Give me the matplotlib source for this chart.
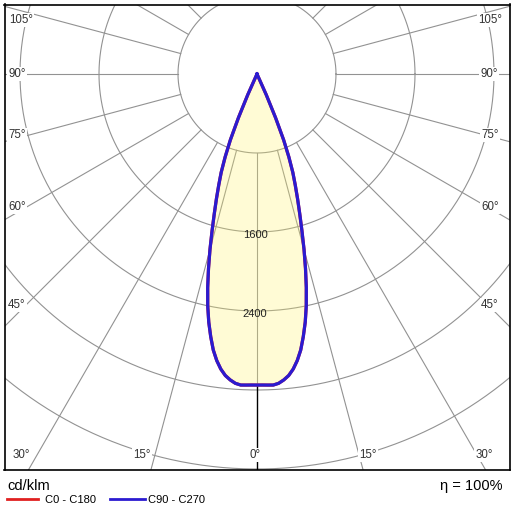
import numpy as np
import matplotlib
matplotlib.use("Agg")
import matplotlib.pyplot as plt
from matplotlib.lines import Line2D

plt.rcParams['font.family'] = ['Liberation Sans', 'DejaVu Sans']

# luminous intensity, cd/klm, by angle from nadir (degrees)
gamma = list(range(0, 26))
i_c0_c180 = [3150, 3150, 3152, 3154, 3140, 3110, 3070, 3010, 2930, 2830, 2700, 2560, 2400,
             2220, 2030, 1840, 1650, 1480, 1330, 1190, 1060, 900, 720, 480, 230, 0]
i_c90_c270 = [3150, 3150, 3152, 3154, 3140, 3110, 3070, 3010, 2930, 2830, 2700, 2560, 2400,
              2220, 2030, 1840, 1650, 1480, 1330, 1190, 1060, 900, 720, 480, 230, 0]

ring_levels = [800, 1600, 2400, 3200, 4000, 4800]
ring_labels = ["1600", "2400"]
spoke_angles = [15, 30, 45, 60, 75, 90, 105, 120, 135, 150, 165, 180]

# angle labels: text, pixel x, pixel y
angle_labels = [("105°", 21, 20), ("90°", 17, 74), ("75°", 17, 135), ("60°", 17, 207),
                ("45°", 17, 305), ("30°", 21, 455), ("15°", 142, 455), ("0°", 255, 455),
                ("15°", 368, 455), ("30°", 484, 455), ("45°", 490, 305), ("60°", 490, 207),
                ("75°", 490, 135), ("90°", 489, 74), ("105°", 490, 20)]

W = 512
CX, CY = 257, 74          # centre of diagram in pixels
K = 800 / 79              # cd/klm per pixel
L, T, R, B = 4.5, 4.5, 510, 470

def px(x, y):
    return (x - CX) * K, -(y - CY) * K

fig = plt.figure(figsize=(5.12, 5.12), dpi=100)
ax = fig.add_axes([L / W, 1 - B / W, (R - L) / W, (B - T) / W])
ax.set_xlim((L - CX) * K, (R - CX) * K)
ax.set_ylim(-(B - CY) * K, (CY - T) * K)
ax.set_xticks([])
ax.set_yticks([])
for s in ax.spines.values():
    s.set_linewidth(1.2)
    s.set_color('black')

grid = '#929292'
th = np.linspace(0, 2 * np.pi, 721)
for r in ring_levels:
    ax.plot(r * np.cos(th), r * np.sin(th), color=grid, lw=0.8, zorder=1)

for a in spoke_angles:
    ar = np.radians(a)
    for sgn in (-1, 1):
        ax.plot([800 * sgn * np.sin(ar), 9000 * sgn * np.sin(ar)],
                [-800 * np.cos(ar), -9000 * np.cos(ar)], color=grid, lw=0.8, zorder=1)
# 0 degree axis
ax.plot([0, 0], [-800, -i_c90_c270[0]], color=grid, lw=0.8, zorder=1)
ax.plot([0, 0], [-i_c90_c270[0], -9000], color='black', lw=1.0, zorder=3)

g = np.radians(gamma)
def outline(vals):
    v = np.array(vals, dtype=float)
    xr, yr = v * np.sin(g), -v * np.cos(g)
    xs = np.concatenate([-xr[::-1], xr[1:]])
    ys = np.concatenate([yr[::-1], yr[1:]])
    return xs, ys

xs, ys = outline(i_c90_c270)
ax.fill(xs, ys, color=(1.0, 0.95, 0.40), alpha=0.27, lw=0, zorder=2)
x0, y0 = outline(i_c0_c180)
ax.plot(x0, y0, color='#e02020', lw=2.3, zorder=4, solid_joinstyle='round')
ax.plot(xs, ys, color='#2b1bd0', lw=2.3, zorder=5, solid_joinstyle='round')

for lab in ring_labels:
    ax.text(-20, -float(lab) - 30, lab, ha='center', va='center', fontsize=8,
            color='#222222', zorder=6)

for txt, x, y in angle_labels:
    dx, dy = px(x, y)
    ax.text(dx, dy, txt, ha='center', va='center', fontsize=8.3, color='#333333', zorder=6,
            bbox=dict(facecolor='white', edgecolor='none', pad=0.6))

fig.text(7 / W, 1 - 486 / W, "cd/klm", fontsize=10.5, va='center', ha='left')
fig.text(502 / W, 1 - 486 / W, "η = 100%", fontsize=10.5, va='center', ha='right')
fig.add_artist(Line2D([7 / W, 38 / W], [1 - 499 / W] * 2, color='#e02020', lw=2))
fig.text(45 / W, 1 - 500 / W, "C0 - C180", fontsize=8, va='center', ha='left')
fig.add_artist(Line2D([110 / W, 145 / W], [1 - 499 / W] * 2, color='#2b1bd0', lw=2))
fig.text(148 / W, 1 - 500 / W, "C90 - C270", fontsize=8, va='center', ha='left')

fig.savefig("out.png", dpi=100)
